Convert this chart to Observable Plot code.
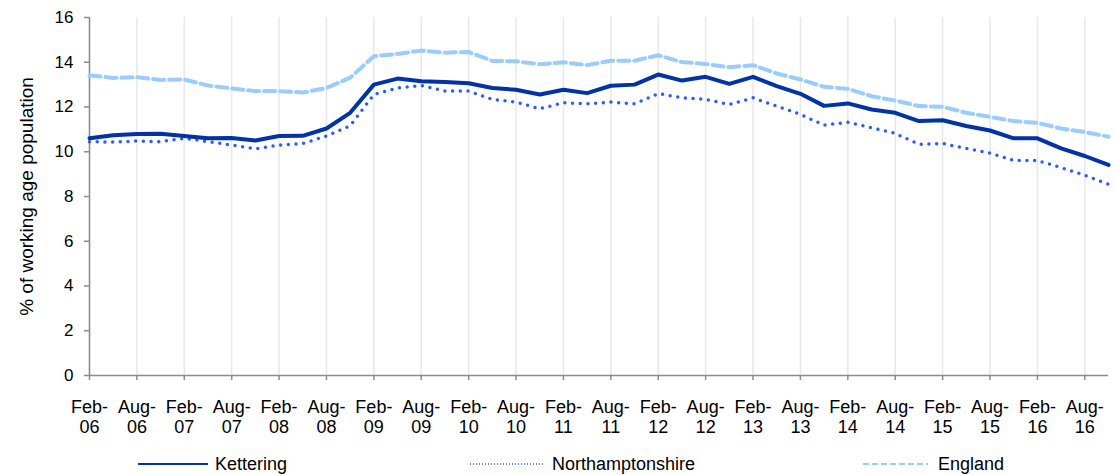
<!DOCTYPE html>
<html><head><meta charset="utf-8">
<script src="https://cdn.jsdelivr.net/npm/d3@7"></script>
<script src="https://cdn.jsdelivr.net/npm/@observablehq/plot@0.6"></script>
<style>
body{margin:0;background:#fff;font-family:"Liberation Sans",Arial,sans-serif;}
#wrap{position:relative;width:1115px;height:475px;overflow:hidden;}
#legend{position:absolute;left:0;top:452px;width:1115px;height:24px;font-size:18px;color:#000;}
.item{position:absolute;top:0;height:24px;display:flex;align-items:center;white-space:nowrap;}
.item svg{display:block;}
</style></head><body>
<div id="wrap"><div id="chart"></div><div id="legend"></div></div>
<script>
const quarters = [
  "Feb-06","May-06","Aug-06","Nov-06","Feb-07","May-07","Aug-07","Nov-07",
  "Feb-08","May-08","Aug-08","Nov-08","Feb-09","May-09","Aug-09","Nov-09",
  "Feb-10","May-10","Aug-10","Nov-10","Feb-11","May-11","Aug-11","Nov-11",
  "Feb-12","May-12","Aug-12","Nov-12","Feb-13","May-13","Aug-13","Nov-13",
  "Feb-14","May-14","Aug-14","Nov-14","Feb-15","May-15","Aug-15","Nov-15",
  "Feb-16","May-16","Aug-16","Nov-16"
];
const kettering = [10.60,10.74,10.79,10.80,10.70,10.60,10.61,10.50,10.70,10.71,11.04,11.74,13.00,13.27,13.15,13.12,13.06,12.85,12.77,12.56,12.77,12.62,12.95,13.00,13.45,13.18,13.35,13.03,13.35,12.93,12.59,12.05,12.16,11.89,11.74,11.37,11.41,11.15,10.95,10.60,10.60,10.15,9.81,9.41];
const northamptonshire = [10.45,10.43,10.48,10.45,10.60,10.45,10.30,10.13,10.30,10.37,10.70,11.16,12.56,12.85,12.96,12.71,12.71,12.34,12.22,11.92,12.19,12.14,12.22,12.14,12.60,12.41,12.34,12.11,12.41,12.04,11.67,11.19,11.32,11.07,10.82,10.33,10.37,10.15,9.94,9.61,9.61,9.29,8.95,8.55];
const england = [13.42,13.30,13.33,13.21,13.23,12.96,12.83,12.71,12.71,12.65,12.85,13.31,14.27,14.37,14.52,14.43,14.46,14.06,14.04,13.91,14.00,13.87,14.07,14.07,14.31,14.01,13.92,13.78,13.87,13.50,13.23,12.90,12.81,12.48,12.29,12.04,12.01,11.74,11.56,11.37,11.29,11.04,10.88,10.67];
const xTickLabels = ["Feb-06","Aug-06","Feb-07","Aug-07","Feb-08","Aug-08","Feb-09","Aug-09","Feb-10","Aug-10","Feb-11","Aug-11","Feb-12","Aug-12","Feb-13","Aug-13","Feb-14","Aug-14","Feb-15","Aug-15","Feb-16","Aug-16"];
const yTicks = [0,2,4,6,8,10,12,14,16];
const yTitle = "% of working age population";
const seriesNames = ["Kettering","Northamptonshire","England"];
const seriesColors = ["#0032a8","#2a5cff","#99ccff"];

const axisGray = "#8c8c8c";
const lineOf = (values, opts) => Plot.lineY(values, {x: (d, i) => quarters[i], y: d => d, ...opts});

const chart = Plot.plot({
  width: 1115,
  height: 445,
  marginLeft: 89,
  marginRight: 7,
  marginTop: 17,
  marginBottom: 70,
  style: {fontFamily: '"Liberation Sans", Arial, sans-serif', color: "#000", background: "#fff"},
  x: {type: "point", domain: quarters, padding: 0},
  y: {domain: [0, 16]},
  marks: [
    Plot.gridX(xTickLabels, {stroke: "#e8e8e8", strokeOpacity: 1, strokeWidth: 1.5}),
    Plot.ruleY([0], {stroke: axisGray, strokeWidth: 1.5}),
    Plot.ruleX([quarters[0]], {y1: 0, y2: 16, stroke: axisGray, strokeWidth: 1.5}),
    Plot.axisX({ticks: xTickLabels, tickFormat: d => d.replace("-", "-\n"), tickSize: 5, tickPadding: 18,
      fontSize: 18, lineHeight: 1.11, stroke: axisGray, strokeWidth: 1.5, fill: "#000", label: null}),
    Plot.axisY({ticks: yTicks, tickSize: 5, tickPadding: 11, fontSize: 17, stroke: axisGray, strokeWidth: 1.5, fill: "#000", label: null}),
    Plot.axisY({ticks: [], label: yTitle, labelAnchor: "center", labelArrow: "none", labelOffset: 70, fontSize: 19, fill: "#000"}),
    lineOf(england, {stroke: seriesColors[2], strokeWidth: 4, strokeDasharray: "11 5"}),
    lineOf(northamptonshire, {stroke: seriesColors[1], strokeWidth: 3.5, strokeDasharray: "0 7.7", strokeLinecap: "round"}),
    lineOf(kettering, {stroke: seriesColors[0], strokeWidth: 4})
  ]
});
document.getElementById("chart").appendChild(chart);

const legendSpec = [
  {left: 138, w: 70, gap: 7, dash: null, sw: 2.2},
  {left: 470, w: 75, gap: 7, dash: "1 2", sw: 1.5},
  {left: 863, w: 65, gap: 10, dash: "6 3", sw: 2}
];
const legend = document.getElementById("legend");
seriesNames.forEach((name, i) => {
  const s = legendSpec[i];
  const item = document.createElement("div");
  item.className = "item";
  item.style.left = s.left + "px";
  item.innerHTML = `<svg width="${s.w}" height="6"><line x1="0" x2="${s.w}" y1="3" y2="3" stroke="${seriesColors[i]}" stroke-width="${s.sw}" ${s.dash ? `stroke-dasharray="${s.dash}"` : ""}/></svg><span style="margin-left:${s.gap}px">${name}</span>`;
  legend.appendChild(item);
});
</script>
</body></html>
